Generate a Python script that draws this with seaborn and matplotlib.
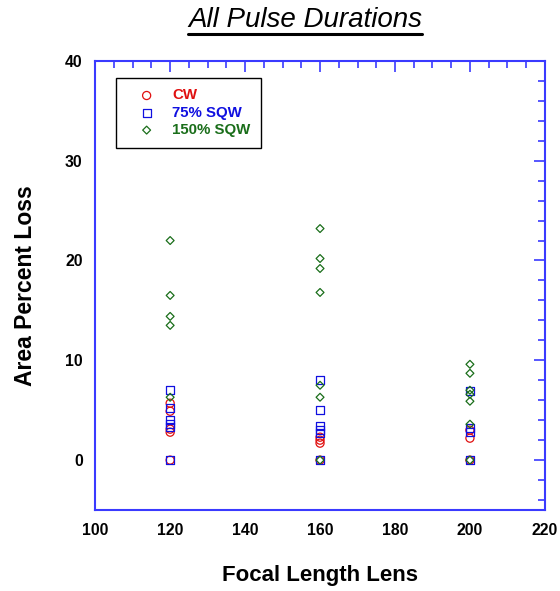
import numpy as np
import pandas as pd
import matplotlib
matplotlib.use("Agg")
import matplotlib.pyplot as plt
import seaborn as sns
from matplotlib.lines import Line2D
from matplotlib.ticker import MultipleLocator

# ## ---- ## #
# ## Data ## #
# ## ---- ## #

series_names = ["CW", "75% SQW", "150% SQW"]

cw_x = [120, 120, 120, 120, 120, 160, 160, 160, 160, 200, 200, 200]
cw_y = [5.7, 4.9, 3.1, 2.8, 0.0, 2.3, 2.0, 1.7, 0.0, 3.0, 2.2, 0.0]

sqw75_x = [120, 120, 120, 120, 120, 120, 160, 160, 160, 160, 160, 160, 200, 200, 200, 200]
sqw75_y = [7.0, 5.2, 4.0, 3.6, 3.3, 0.0, 8.0, 5.0, 3.4, 3.0, 2.7, 0.0, 6.9, 3.2, 2.8, 0.0]

sqw150_x = [120, 120, 120, 120, 120, 160, 160, 160, 160, 160, 160, 160,
            200, 200, 200, 200, 200, 200, 200]
sqw150_y = [22.0, 16.5, 14.4, 13.5, 6.3, 23.2, 20.2, 19.2, 16.8, 7.5, 6.3, 0.0,
            9.6, 8.7, 7.0, 6.6, 5.9, 3.6, 0.0]

# ## ----- ## #
# ## Style ## #
# ## ----- ## #

sns.set_style("white")
plt.rcParams["font.family"] = ["Liberation Sans", "DejaVu Sans"]
plt.rcParams["text.color"] = "black"
plt.rcParams["axes.labelcolor"] = "black"

colors = ["#e01010", "#1010e0", "#1a6e1a"]
markers = ["o", "s", "D"]
sizes = [34, 34, 16]
axis_blue = "#3a3aff"

fig = plt.figure(figsize=(5.6, 5.91), dpi=100)
ax = fig.add_axes([0.170, 0.137, 0.803, 0.760])

frames = [
    pd.DataFrame({"x": cw_x, "y": cw_y}),
    pd.DataFrame({"x": sqw75_x, "y": sqw75_y}),
    pd.DataFrame({"x": sqw150_x, "y": sqw150_y}),
]

for df, name, col, mk, sz in zip(frames, series_names, colors, markers, sizes):
    sns.scatterplot(data=df, x="x", y="y", ax=ax, marker=mk, s=sz,
                    facecolors="none", edgecolor=col, color=col,
                    linewidth=0.9, label=name, zorder=3)

# Axes limits & ticks
ax.set_xlim(100, 220)
ax.set_ylim(-5, 40)
ax.xaxis.set_major_locator(MultipleLocator(20))
ax.xaxis.set_minor_locator(MultipleLocator(5))
ax.yaxis.set_major_locator(MultipleLocator(10))
ax.yaxis.set_minor_locator(MultipleLocator(2))
ax.set_yticks([0, 10, 20, 30, 40])
ax.tick_params(which="both", direction="in", top=True, right=True,
               color=axis_blue, width=1.2, labelcolor="black")
ax.tick_params(which="major", length=8, labelsize=11.3, pad=9)
ax.tick_params(which="minor", length=5)
for lab in ax.get_xticklabels() + ax.get_yticklabels():
    lab.set_fontweight("bold")
for sp in ax.spines.values():
    sp.set_color(axis_blue)
    sp.set_linewidth(1.5)

ax.set_xlabel("Focal Length Lens", fontsize=16, fontweight="bold", labelpad=20)
ax.set_ylabel("Area Percent Loss", fontsize=16.5, fontweight="bold", labelpad=20)

# Legend
leg = ax.legend(loc="upper left", bbox_to_anchor=(0.046, 0.962), frameon=True,
                fancybox=False, edgecolor="black", framealpha=1,
                prop={"weight": "bold", "size": 10.8}, handlelength=2.7,
                handletextpad=0.37, borderpad=0.7, labelspacing=0.22,
                borderaxespad=0)
leg.get_frame().set_linewidth(1.0)
for txt, col in zip(leg.get_texts(), colors):
    txt.set_color(col)

# Title with underline
title = fig.text(0.545, 0.966, "All Pulse Durations", ha="center", va="center",
                 fontsize=20, fontstyle="italic")
fig.canvas.draw()
bb = title.get_window_extent().transformed(fig.transFigure.inverted())
fig.add_artist(Line2D([bb.x0, bb.x1], [bb.y0 - 0.002, bb.y0 - 0.002],
                      transform=fig.transFigure, color="black", linewidth=2.2))

fig.savefig("out.png", dpi=100)
